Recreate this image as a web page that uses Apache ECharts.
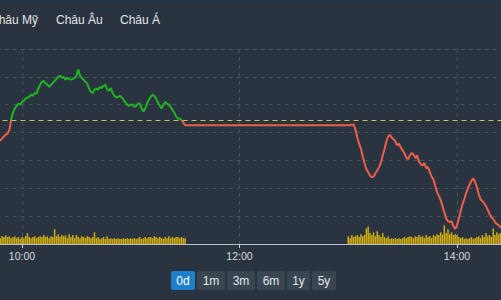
<!DOCTYPE html>
<html>
<head>
<meta charset="utf-8">
<script src="https://cdn.jsdelivr.net/npm/echarts@6.0.0/dist/echarts.min.js"></script>
<style>
  html, body { margin: 0; padding: 0; background: #2a3440; }
  #chart { width: 501px; height: 300px; }
</style>
</head>
<body>
<div id="chart"></div>
<script>
// ---- data (minutes since midnight for time) ----
const tabs = ['Châu Mỹ', 'Châu Âu', 'Châu Á'];
const rangeButtons = ['0d', '1m', '3m', '6m', '1y', '5y'];
const tickLabels = { 600: '10:00', 720: '12:00', 840: '14:00' };
const refPrice = 1182.3;

const morningStart = 586; // 9:46
const morningPrice = [
  1178.2,1178.4,1178.6,1178.9,1179.3,1179.6,1179.8,1180.4,1182.3,1183.6,
  1184.3,1184.8,1185.2,1185.0,1185.5,1185.7,1186.1,1186.3,1186.4,1186.8,
  1186.6,1187.1,1187.0,1187.9,1188.6,1189.1,1189.3,1188.8,1188.6,1188.2,
  1188.6,1188.9,1189.3,1189.6,1190.0,1190.2,1189.8,1190.0,1189.5,1189.8,
  1189.6,1189.5,1189.6,1189.8,1190.2,1191.3,1190.2,1189.8,1189.5,1189.1,
  1188.8,1187.9,1187.3,1187.1,1187.7,1187.9,1187.7,1188.2,1188.0,1188.4,
  1188.6,1187.7,1187.5,1188.0,1187.1,1186.6,1186.3,1186.4,1186.6,1186.3,
  1185.9,1185.4,1185.0,1184.8,1185.0,1185.0,1184.6,1184.8,1185.2,1185.2,
  1184.3,1183.8,1184.3,1185.2,1185.9,1186.4,1186.8,1186.6,1186.1,1185.4,
  1184.8,1184.3,1185.0,1185.5,1185.2,1185.0,1184.6,1184.1,1183.6,1182.9,
  1182.5,1182.5,1182.3,1181.8,1181.3
];
const morningVolume = [
  1.8,2.0,1.5,2.0,1.8,2.2,1.8,2.0,1.5,1.8,
  2.0,1.5,1.8,1.3,1.8,1.5,2.0,2.8,1.8,1.5,
  1.8,2.0,1.5,1.8,2.0,1.8,2.3,1.8,2.0,1.5,
  2.0,1.8,3.8,2.0,2.5,1.8,2.3,2.0,2.2,1.5,
  2.5,1.8,2.3,1.5,2.3,1.8,1.5,2.0,1.8,1.5,
  2.0,1.8,1.5,1.8,3.0,1.5,1.8,1.3,1.5,1.8,
  1.3,2.0,1.3,1.5,1.3,1.5,1.3,1.5,1.3,1.3,
  1.5,1.3,1.5,1.3,1.5,1.3,1.5,1.3,1.5,1.8,
  1.3,1.5,1.8,1.5,1.8,1.8,1.5,2.0,1.8,1.5,
  1.8,1.5,1.3,1.8,1.5,2.0,1.5,1.8,1.5,1.8,
  1.8,1.5,1.8,1.5,1.5
];

const afternoonStart = 780; // 13:00
const afternoonPrice = [
  1181.3,1181.3,1181.4,1181.4,1180.5,1179.1,1178.0,1177.1,1175.7,1174.5,
  1173.4,1172.9,1172.3,1172.0,1172.1,1172.7,1173.2,1173.8,1174.6,1175.9,
  1177.0,1178.4,1179.3,1179.6,1179.1,1178.8,1178.4,1177.7,1178.0,1177.3,
  1176.8,1176.3,1175.5,1175.2,1175.9,1176.3,1176.1,1175.4,1175.9,1174.8,
  1174.3,1174.1,1174.5,1173.6,1173.8,1172.9,1172.1,1171.6,1170.4,1169.3,
  1168.6,1167.9,1166.8,1165.7,1164.6,1164.1,1163.9,1164.1,1163.2,1162.7,
  1163.4,1164.5,1165.9,1167.1,1168.0,1169.1,1170.0,1170.7,1171.4,1171.8,
  1171.1,1170.2,1168.9,1168.0,1167.7,1167.3,1166.8,1166.1,1165.4,1164.8,
  1164.5,1163.9,1163.6,1163.4,1163.0,1162.9
];
const afternoonVolume = [
  2.0,1.5,2.3,1.8,2.0,2.3,1.8,2.5,2.0,2.3,
  4.0,4.5,2.8,2.3,3.0,2.0,3.3,2.3,1.8,2.8,
  1.8,1.5,2.0,1.3,1.5,1.3,1.5,1.3,1.5,1.3,
  1.5,1.8,1.5,1.8,2.0,1.8,1.5,2.0,1.8,2.3,
  1.8,2.0,1.5,2.3,1.8,2.0,1.5,2.3,2.0,2.5,
  2.3,3.0,2.5,4.8,2.8,3.8,2.5,3.0,2.3,2.5,
  2.3,1.8,1.5,1.8,1.3,1.5,1.3,1.5,1.8,1.3,
  1.5,1.8,2.0,1.5,2.3,1.8,2.8,2.0,2.3,1.8,
  4.0,2.3,3.0,2.5,2.8,2.3
];

// ---- build series data ----
function pairs(start, arr) { return arr.map((v, i) => [start + i, v]); }
const priceData = pairs(morningStart, morningPrice).concat(pairs(afternoonStart, afternoonPrice));
const volumeData = pairs(morningStart, morningVolume).concat(pairs(afternoonStart, afternoonVolume));

const FONT = '"Liberation Sans", Arial, sans-serif';
const chart = echarts.init(document.getElementById('chart'), null, { renderer: 'svg' });

// tabs
const tabX = [-10, 56, 120];
const graphics = [
  { type: 'rect', left: 0, top: 0, shape: { width: 501, height: 2 }, style: { fill: '#21384f' }, z: 10 }
];
tabs.forEach((t, i) => {
  graphics.push({ type: 'text', x: tabX[i], y: 20, z: 10,
    style: { text: t, fill: '#e2e4e6', font: '12px ' + FONT, verticalAlign: 'middle' } });
});
// range buttons
const btnX = [171, 197, 227, 257, 287, 312];
const btnW = [24, 28, 28, 28, 23, 24];
rangeButtons.forEach((b, i) => {
  const active = i === 0;
  graphics.push({ type: 'group', x: btnX[i], y: 271, z: 10, children: [
    { type: 'rect', shape: { x: 0, y: 0, width: btnW[i], height: 19, r: 2 },
      style: { fill: active ? '#1f7fc8' : '#3a4552' } },
    { type: 'text', x: btnW[i] / 2, y: 10,
      style: { text: b, fill: active ? '#ffffff' : '#e3e6ea', font: '12px ' + FONT,
               align: 'center', verticalAlign: 'middle' } }
  ]});
});

const option = {
  backgroundColor: '#2a3440',
  animation: false,
  grid: { left: -195.5, right: -64.75, top: 49, bottom: 56, outerBoundsMode: 'none', containLabel: false },
  xAxis: {
    type: 'value', min: 480, max: 900, interval: 120,
    axisLine: { onZero: false, lineStyle: { color: '#b9c0c8', width: 1 } },
    axisTick: { show: true, length: 4, lineStyle: { color: '#d0d4d8' } },
    axisLabel: { color: '#d8dbde', fontSize: 10.5, fontFamily: FONT, margin: 6,
      formatter: v => tickLabels[v] || '' },
    splitLine: { show: true, lineStyle: { type: [4, 4], color: '#45515e', width: 1 } }
  },
  yAxis: [
    { type: 'value', min: 1160, max: 1195, interval: 5,
      axisLine: { show: false }, axisTick: { show: false }, axisLabel: { show: false },
      splitLine: { show: true, lineStyle: { type: [4, 4], color: '#45515e', width: 1 } } },
    { type: 'value', min: 0, max: 50, show: false, splitLine: { show: false } }
  ],
  visualMap: {
    show: false, type: 'piecewise', seriesIndex: 0, dimension: 1,
    pieces: [ { gt: refPrice, lte: 1300, color: '#1fb41f' }, { gte: 1000, lte: refPrice, color: '#ef5d4b' } ]
  },
  series: [
    { type: 'line', data: priceData, showSymbol: false, z: 5,
      lineStyle: { width: 2 },
      markLine: { silent: true, symbol: 'none', label: { show: false },
        lineStyle: { type: [5, 4], color: '#c5c25c', width: 1 },
        data: [ { yAxis: refPrice } ] } },
    { type: 'bar', yAxisIndex: 1, data: volumeData, barWidth: 1.5, z: 3,
      itemStyle: { color: '#cfae12' } }
  ],
  graphic: graphics
};
chart.setOption(option);
</script>
</body>
</html>
